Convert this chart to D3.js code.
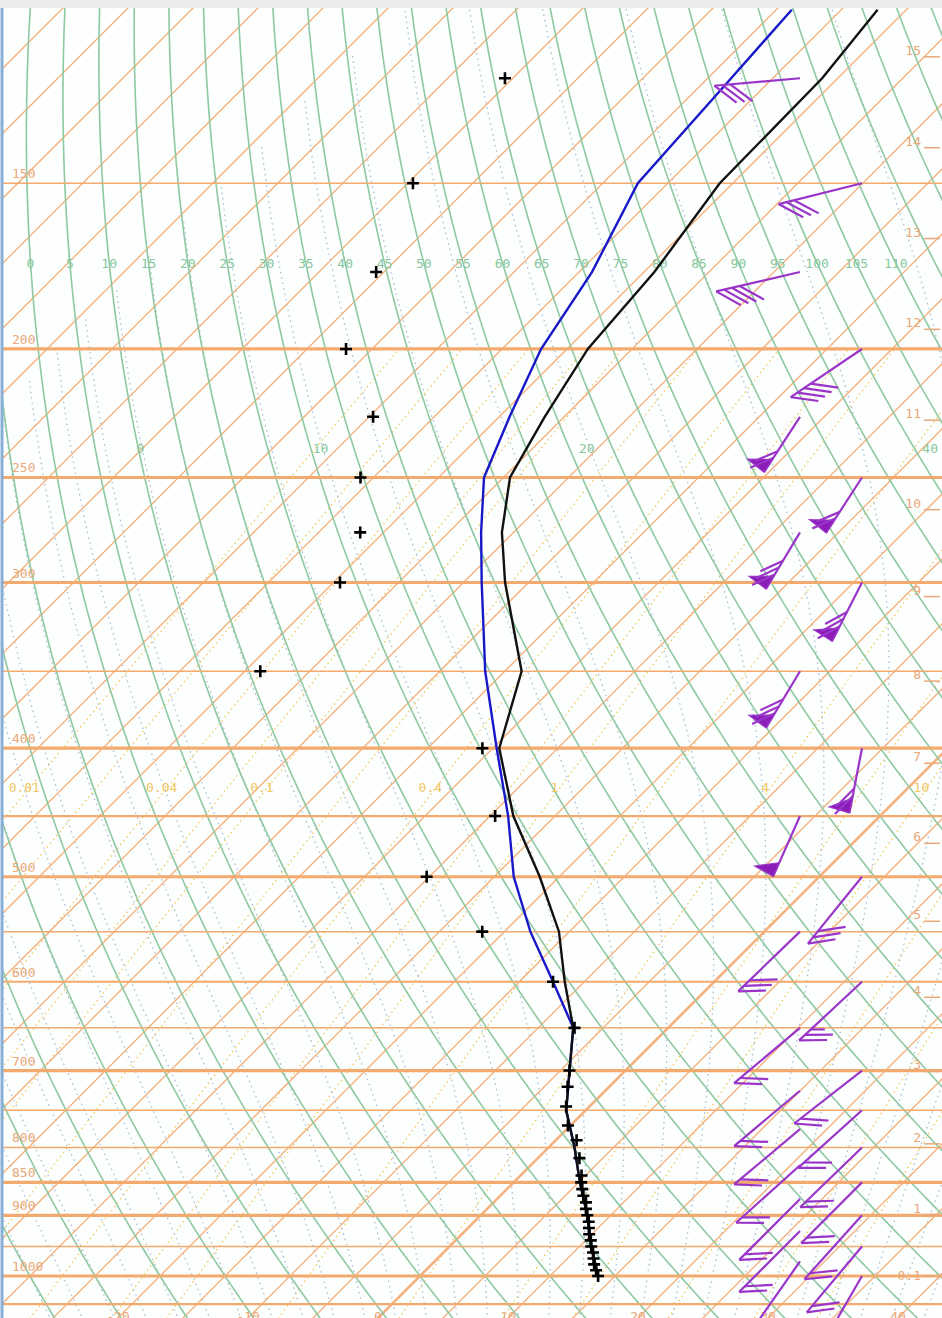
<!DOCTYPE html>
<html><head><meta charset="utf-8">
<script src="https://cdn.jsdelivr.net/npm/d3@7"></script>
<style>html,body{margin:0;padding:0;background:#fff;}svg{display:block;}</style>
</head><body>
<svg id="c" width="942" height="1318"></svg>
<script>
// ---------------- data ----------------
const tempP = [111,125,150,175,200,225,250,275,300,350,400,450,500,550,600,650,700,750,800,850,900,950,1000];
const tempT = [-62.2,-61.2,-61.0,-59.2,-58.4,-56.5,-54.5,-50.9,-46.8,-38.7,-34.5,-28.2,-21.5,-15.8,-11.5,-7.3,-4.3,-1.5,2.0,5.1,8.2,10.9,13.7];
const blueP = [111,125,150,175,200,225,250,275,300,350,400,450,500,550,600,650,700,750,800,850,900,950,1000];
const blueT = [-68.8,-68.2,-67.3,-64.0,-62.0,-59.2,-56.5,-52.5,-48.6,-41.5,-34.7,-28.6,-23.5,-18.0,-12.4,-7.3,-4.3,-1.5,2.0,5.1,8.2,10.9,13.7];
const crossP = [125,150,175,200,225,250,275,300,350,400,450,500,550,600,650,700,720,745,770,790,815,840,850,860,870,880,890,900,910,920,930,940,950,960,970,980,990,1000];
const crossT = [-85.6,-84.6,-80.6,-77.0,-69.7,-66.0,-61.8,-59.5,-58.8,-35.8,-29.6,-30.2,-21.7,-12.4,-7.2,-4.3,-3.2,-1.8,-0.2,1.6,3.2,4.7,5.2,5.8,6.4,7.1,7.6,8.2,8.8,9.3,9.8,10.4,10.9,11.5,12.0,12.5,13.1,13.7];
const windP = [125,150,175,200,225,250,275,300,350,400,450,500,550,600,650,700,725,750,775,800,825,850,875,900,925,950,975,1000];
const windDir = [265,256,257,236,213,213,211,207,211,191,204,219,226,227,230,232,230,228,230,226,228,225,225,222,225,220,215,210];
const windSpd = [30,30,40,40,70,70,80,80,80,70,50,30,30,25,20,20,20,20,20,20,20,20,20,20,20,20,15,15];
const isobarLevels = [150,200,250,300,350,400,450,500,550,600,650,700,750,800,850,900,950,1000,1050];
const isobarMajor = [200,250,300,400,500,700,850,900,1000];
const isobarMedium = [450,600,1050];
const isobarLabels = [150,200,250,300,400,500,600,700,800,850,900,1000];
const tempTicks = [-40,-30,-20,-10,0,10,20,30,40];
const thetaLabels = [0,5,10,15,20,25,30,35,40,45,50,55,60,65,70,75,80,85,90,95,100,105,110];
const moistLabels = [0,10,20];
const mixRatios = [0.01,0.02,0.04,0.07,0.1,0.2,0.4,0.7,1,2,4,7,10,16,24,32];
const mixLabels = [0.01,0.04,0.1,0.4,1,4,10];
const heightKm = [1,2,3,4,5,6,7,8,9,10,11,12,13,14,15];

// ---------------- scales ----------------
const W = 942, H = 1318;
const y = d3.scaleLog().domain([1000, 100]).range([1276, 1276 - 576 * Math.log(10)]);
const xT = d3.scaleLinear().domain([0, 10]).range([420, 550]);
const X = (T, p) => xT(T) + (y(1000) - y(p));
const pAtY = yy => y.invert(yy);

const svg = d3.select('#c');
svg.append('rect').attr('width', W).attr('height', H).attr('fill', '#fdfefe');
svg.append('clipPath').attr('id', 'clip').append('rect').attr('x', 3).attr('y', 8).attr('width', W - 3).attr('height', H - 8);
const g = svg.append('g').attr('clip-path', 'url(#clip)');
const line = d3.line().x(d => d[0]).y(d => d[1]);

const pTop = 95, pBot = 1100;
const pGrid = d3.range(pBot, pTop - 1, -5);

// thermodynamics helpers (background lines)
const es = Tc => 6.112 * Math.exp(17.67 * Tc / (Tc + 243.5));
const Rd = 287.04, cp = 1005.7, Lv = 2.501e6, eps = 0.622;
const dTdp = (T, p) => { const e = es(T - 273.15); const rs = eps * e / (p - e);
  return ((Rd * T + Lv * rs) / p) / (cp + Lv * Lv * rs * eps / (Rd * T * T)); };
function moistPath(thw) {
  const pts = [];
  let T = thw + 273.15, p = 1000; const dp = 2;
  pts.push([X(T - 273.15, p), y(p)]);
  while (p > pTop && T - 273.15 > -100) { T -= dTdp(T, p) * dp; p -= dp; if (Math.round(p) % 10 === 0) pts.push([X(T - 273.15, p), y(p)]); }
  const dn = []; T = thw + 273.15; p = 1000;
  while (p < pBot) { T += dTdp(T, p) * dp; p += dp; if (Math.round(p) % 10 === 0) dn.push([X(T - 273.15, p), y(p)]); }
  return dn.reverse().concat(pts);
}
function moistTat(thw, pt) {
  let T = thw + 273.15, p = 1000; const dp = 0.5;
  while (p > pt) { T -= dTdp(T, p) * dp; p -= dp; }
  return T - 273.15;
}
const tdFromW = (w, p) => { const e = w * p / (622 + w); const l = Math.log(e / 6.112); return 243.5 * l / (17.67 - l); };

// mixing ratio lines (dotted yellow)
mixRatios.forEach(w => {
  g.append('path').attr('d', line(pGrid.filter(p => p >= 200).map(p => [X(tdFromW(w, p), p), y(p)])))
    .attr('fill', 'none').attr('stroke', '#f2c75c').attr('stroke-width', 1.3).attr('stroke-dasharray', '1.5,3.5');
});
// moist adiabats (dotted grey-blue)
d3.range(-30, 41, 2.5).forEach(t => {
  g.append('path').attr('d', line(moistPath(t))).attr('fill', 'none')
    .attr('stroke', '#a9bdd2').attr('stroke-width', 1.3).attr('stroke-dasharray', '1.5,4');
});
// isotherms
d3.range(-160, 61, 5).forEach(t => {
  g.append('line').attr('x1', X(t, pBot)).attr('y1', y(pBot)).attr('x2', X(t, pTop)).attr('y2', y(pTop))
    .attr('stroke', '#f4b07c').attr('stroke-width', t === 0 ? 2.6 : 1.3);
});
// dry adiabats
d3.range(-60, 221, 5).forEach(th => {
  g.append('path').attr('d', line(pGrid.map(p => [X((th + 273.15) * Math.pow(p / 1000, 0.2857) - 273.15, p), y(p)])))
    .attr('fill', 'none').attr('stroke', '#8ec9a2').attr('stroke-width', 1.6);
});
// isobars
isobarLevels.forEach(p => {
  g.append('line').attr('x1', 0).attr('x2', W).attr('y1', y(p)).attr('y2', y(p))
    .attr('stroke', '#f2aa6e').attr('stroke-width', isobarMajor.includes(p) ? 3.2 : (isobarMedium.includes(p) ? 2.2 : 1.5));
});

// labels
const lab = g.append('g').attr('font-family', 'DejaVu Sans Mono, monospace').attr('font-size', 13);
isobarLabels.forEach(p => {
  lab.append('text').attr('x', 12).attr('y', y(p) - 5).attr('fill', '#eba878').text(p);
});
const pTh = pAtY(263);
thetaLabels.forEach(th => {
  const T = (th + 273.15) * Math.pow(pTh / 1000, 0.2857) - 273.15;
  lab.append('text').attr('x', X(T, pTh)).attr('y', 268).attr('text-anchor', 'middle').attr('fill', '#86c79c').text(th);
});
const pMo = pAtY(448);
moistLabels.forEach(t => {
  lab.append('text').attr('x', X(moistTat(t, pMo), pMo)).attr('y', 453).attr('text-anchor', 'middle').attr('fill', '#86c79c').text(t);
});
lab.append('text').attr('x', 938).attr('y', 453).attr('text-anchor', 'end').attr('fill', '#86c79c').text('40');
const pMx = pAtY(787);
mixLabels.forEach(w => {
  lab.append('text').attr('x', X(tdFromW(w, pMx), pMx) - 6).attr('y', 792).attr('text-anchor', 'middle').attr('fill', '#f0c65e').text(w);
});
const pStd = z => z <= 11000 ? 1013.25 * Math.pow(1 - 2.25577e-5 * z, 5.25588) : 226.32 * Math.exp(-(z - 11000) / 6341.6);
heightKm.forEach(k => {
  const yy = y(pStd(k * 1000));
  lab.append('line').attr('x1', 924).attr('x2', 940).attr('y1', yy).attr('y2', yy).attr('stroke', '#e8a878').attr('stroke-width', 1.5);
  lab.append('text').attr('x', 921).attr('y', yy - 2).attr('text-anchor', 'end').attr('fill', '#e8a878').text(k);
});
lab.append('line').attr('x1', 924).attr('x2', 940).attr('y1', y(1000)).attr('y2', y(1000)).attr('stroke', '#e8a878').attr('stroke-width', 1.5);
lab.append('text').attr('x', 921).attr('y', y(1000) + 4).attr('text-anchor', 'end').attr('fill', '#e8a878').text('0.1');
const pB = pAtY(1318);
tempTicks.forEach(t => {
  lab.append('text').attr('x', X(t, pB)).attr('y', 1321).attr('text-anchor', 'middle').attr('fill', '#e8a878').text(t);
});

// profiles
g.append('path').attr('d', line(blueP.map((p, i) => [X(blueT[i], p), y(p)]))).attr('fill', 'none').attr('stroke', '#1818c8').attr('stroke-width', 2.4);
g.append('path').attr('d', line(tempP.map((p, i) => [X(tempT[i], p), y(p)]))).attr('fill', 'none').attr('stroke', '#111').attr('stroke-width', 2.4);
crossP.forEach((p, i) => {
  g.append('path').attr('transform', `translate(${X(crossT[i], p)},${y(p)})`).attr('d', 'M-6,0H6M0,-6V6').attr('stroke', '#000').attr('stroke-width', 2.6);
});

// wind barbs
const bc = '#9a35c9';
windP.forEach((p, i) => {
  const sx = i % 2 === 0 ? 800 : 862, sy = y(p);
  const a = windDir[i] * Math.PI / 180;
  const u = [Math.sin(a), -Math.cos(a)];
  const spd = Math.round(windSpd[i] / 5) * 5;
  const hasFlag = spd >= 50;
  const L = hasFlag ? 66 : 86;
  const n = hasFlag ? [-u[1], u[0]] : [u[1], -u[0]];
  const fdir = hasFlag ? [0.83 * u[0] + 0.56 * n[0], 0.83 * u[1] + 0.56 * n[1]]
                       : [-0.74 * u[0] + 0.67 * n[0], -0.74 * u[1] + 0.67 * n[1]];
  const bg = g.append('g');
  const tip = [sx + u[0] * L, sy + u[1] * L];
  bg.append('line').attr('x1', sx).attr('y1', sy).attr('x2', tip[0]).attr('y2', tip[1]).attr('stroke', bc).attr('stroke-width', 2.2);
  let s = spd, pos = 0;
  const at = d => [tip[0] - u[0] * d, tip[1] - u[1] * d];
  while (s >= 50) {
    const b0 = at(pos), b1 = at(pos + 15);
    const pk = [b0[0] + n[0] * 21 - u[0] * 2, b0[1] + n[1] * 21 - u[1] * 2];
    bg.append('path').attr('d', `M${b0}L${pk}L${b1}Z`).attr('fill', '#8a1cb8').attr('stroke', bc).attr('stroke-width', 1.2);
    pos += 17; s -= 50;
  }
  const fl = hasFlag ? 25 : 28;
  while (s >= 10) {
    const b0 = at(pos);
    bg.append('line').attr('x1', b0[0]).attr('y1', b0[1]).attr('x2', b0[0] + fdir[0] * fl).attr('y2', b0[1] + fdir[1] * fl).attr('stroke', bc).attr('stroke-width', 2.2);
    pos += 8; s -= 10;
  }
  if (s >= 5) {
    if (pos === 0) pos = 8;
    const b0 = at(pos);
    bg.append('line').attr('x1', b0[0]).attr('y1', b0[1]).attr('x2', b0[0] + fdir[0] * fl / 2).attr('y2', b0[1] + fdir[1] * fl / 2).attr('stroke', bc).attr('stroke-width', 2.2);
  }
});

// frame
svg.append('rect').attr('x', 0).attr('y', 0).attr('width', W).attr('height', 8).attr('fill', '#ebebeb');
svg.append('line').attr('x1', 2).attr('x2', 2).attr('y1', 8).attr('y2', H).attr('stroke', '#86aed6').attr('stroke-width', 3);
</script>
</body></html>
